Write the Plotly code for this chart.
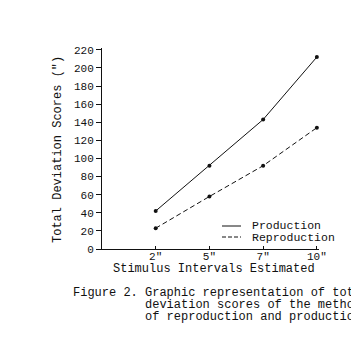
import plotly.graph_objects as go

categories = ['2"', '5"', '7"', '10"']
positions = [1, 2, 3, 4]
production = [42, 92, 143, 212]
reproduction = [23, 58, 92, 134]
y_ticks = [0, 20, 40, 60, 80, 100, 120, 140, 160, 180, 200, 220]

FONT = "Liberation Mono, Courier New, monospace"
INK = "#111111"

L, R, T, B = 102, 32, 48, 110
W, H = 351, 359
pw = W - L - R
ph = H - T - B

fig = go.Figure()
fig.add_trace(go.Scatter(x=positions, y=production, mode="lines+markers", name="Production",
                         line=dict(color=INK, width=1), marker=dict(color=INK, size=4)))
fig.add_trace(go.Scatter(x=positions, y=reproduction, mode="lines+markers", name="Reproduction",
                         line=dict(color=INK, width=1, dash="5px,3px"),
                         marker=dict(color=INK, size=4)))

def px_x(px):
    return (px - L) / pw

def px_y(py):
    return (H - B - py) / ph

def txt(text, x, y, xanchor="center", size=12, angle=0):
    return dict(text=text, textangle=angle, xref="paper", yref="paper",
                x=px_x(x), y=px_y(y), xanchor=xanchor, yanchor="middle",
                showarrow=False, font=dict(size=size, family=FONT, color=INK))

annotations = [
    txt('Total Deviation Scores (")', 58, 150, angle=-90),
    txt("Stimulus Intervals Estimated", 214, 269),
    txt("Figure 2. Graphic representation of total", 71, 293, xanchor="left"),
    txt("deviation scores of the methods", 143, 305, xanchor="left"),
    txt("of reproduction and production.", 143, 317, xanchor="left"),
    txt("Production", 250, 225, xanchor="left", size=11.5),
    txt("Reproduction", 250, 237, xanchor="left", size=11.5),
]

shapes = [
    dict(type="line", xref="paper", yref="paper", x0=px_x(222), x1=px_x(241),
         y0=px_y(226), y1=px_y(226), line=dict(color=INK, width=1)),
    dict(type="line", xref="paper", yref="paper", x0=px_x(222), x1=px_x(241),
         y0=px_y(237), y1=px_y(237), line=dict(color=INK, width=1, dash="4px,2px")),
]

fig.update_layout(
    width=W, height=H,
    margin=dict(l=L, r=R, t=T, b=B, pad=0),
    paper_bgcolor="white", plot_bgcolor="white",
    font=dict(family=FONT, size=11, color=INK),
    xaxis=dict(range=[0, 4.04], tickvals=positions, ticktext=categories,
               showgrid=False, zeroline=False, showline=True, linecolor=INK, linewidth=1,
               ticks="inside", ticklen=3, tickcolor=INK, ticklabelstandoff=-3,
               tickfont=dict(size=11, family=FONT)),
    yaxis=dict(range=[0, 222], tickvals=y_ticks, showgrid=False, zeroline=False,
               showline=True, linecolor=INK, linewidth=1, ticks="outside", ticklen=5,
               tickcolor=INK, tickfont=dict(size=11, family=FONT)),
    annotations=annotations,
    shapes=shapes,
    showlegend=False,
)

fig.write_html("out.html")
